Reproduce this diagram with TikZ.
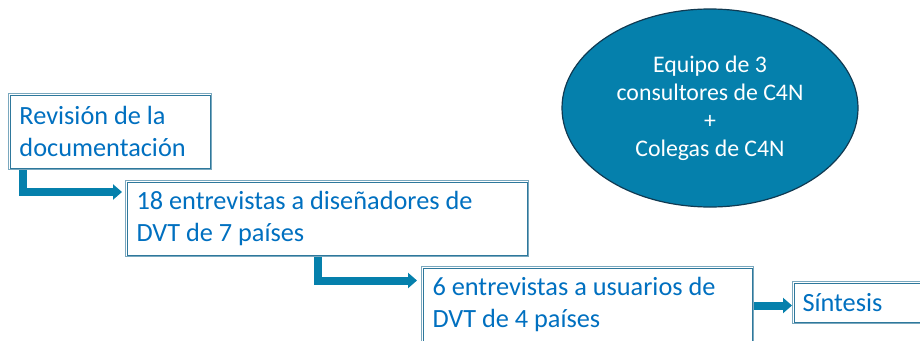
\documentclass[tikz,border=0pt]{standalone}
\usepackage{fontspec}
\setmainfont{Carlito}
\usetikzlibrary{arrows.meta,calc,shapes.geometric}
\definecolor{txtblue}{RGB}{0,112,192}
\definecolor{teal}{RGB}{5,128,172}
\definecolor{ellborder}{RGB}{16,58,82}
\definecolor{boxlight}{RGB}{122,168,190}
\definecolor{boxdark}{RGB}{46,120,156}
\begin{document}
\begin{tikzpicture}[x=1pt,y=-1pt,
  stepbox/.style={draw=boxlight, line width=1pt,
    align=flush left, anchor=north west, text=txtblue, inner xsep=11pt, inner ysep=0pt,
    font=\fontsize{26.3}{32}\selectfont, minimum height=76pt},
  innerline/.style={draw=boxdark, line width=0.9pt},
  flow/.style={draw=teal, line width=8pt, -{Triangle[length=9pt,width=15pt]}},
]
\clip (0,0) rectangle (920,340);
\fill[white] (0,0) rectangle (920,340);
\node[stepbox, text width=181pt] (b1) at (8,93)
  {Revisión de la\\documentación};
\node[stepbox, text width=381pt] (b2) at (125,180)
  {18 entrevistas a diseñadores de\\DVT de 7 países};
\node[stepbox, text width=310pt] (b3) at (421,266)
  {6 entrevistas a usuarios de\\DVT de 4 países};
\node[stepbox, text width=150pt, minimum height=42pt, inner xsep=10pt] (s) at (792,281)
  {Síntesis};
\foreach \n in {b1,b2,b3,s}
  \draw[innerline] ($(\n.north west)+(2,2)$) rectangle ($(\n.south east)+(-2,-2)$);
\node[ellipse, draw=ellborder, line width=1.2pt, fill=teal, text=white,
  minimum width=296pt, minimum height=198pt, inner sep=0pt, align=center,
  font=\fontsize{23.8}{28}\selectfont] (e) at (710,108)
  {Equipo de 3\\consultores de C4N\\+\\Colegas de C4N};
\draw[flow] ($(b1.south west)+(15,0)$) |- ($(b2.north west)+(-3,12)$);
\draw[flow] ($(b2.south west)+(193,0)$) |- ($(b3.north west)+(-4,14.5)$);
\draw[flow] (b3.east |- 0,305.5) -- (s.west |- 0,305.5);
\end{tikzpicture}
\end{document}
